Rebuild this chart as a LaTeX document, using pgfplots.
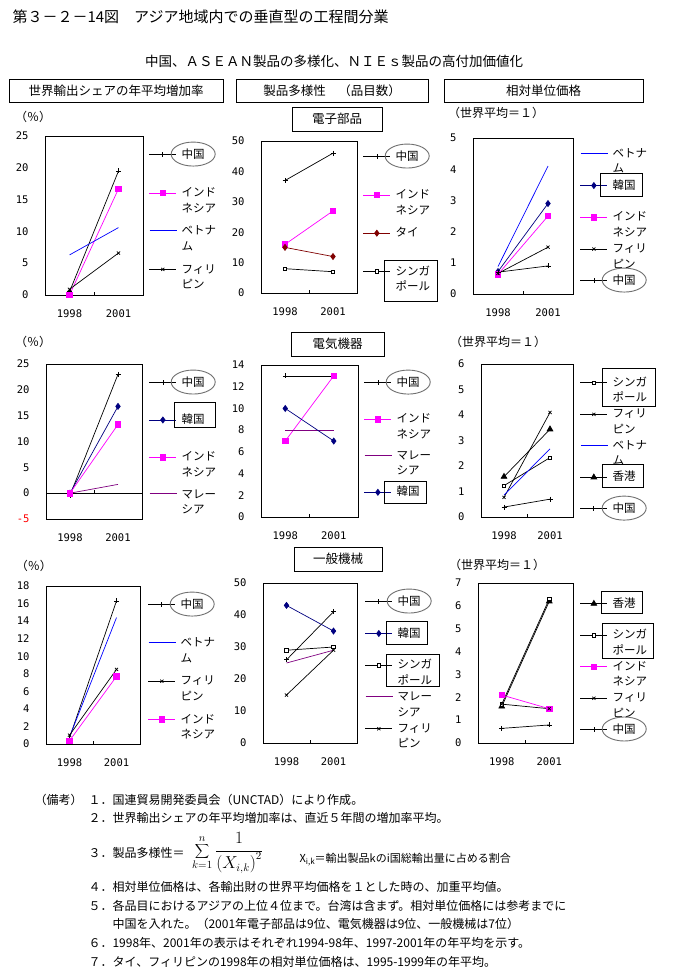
\documentclass[border=0pt]{standalone}
\usepackage{pgfplots}
\pgfplotsset{compat=1.18}
\usepackage{fontspec}
\setmainfont{Noto Sans CJK JP}
\newfontfamily\tickfont{DejaVu Sans Mono}
\definecolor{navyk}{HTML}{000080}
\definecolor{thaired}{HTML}{800000}
\definecolor{purp}{HTML}{800080}
\definecolor{magk}{HTML}{FF00FF}
\definecolor{bluev}{HTML}{0000FF}
\definecolor{ellgray}{HTML}{707070}

\newcommand{\legfont}{\fontsize{11.5}{15.5}\selectfont}
\newcommand{\LS}{30}
\newcommand{\LGe}[1]{\rule{0pt}{\LS pt}\raisebox{\dimexpr\LS pt/2-4.4pt\relax}[0pt][0pt]{#1}}
\newcommand{\LGc}[2]{\LGe{\llap{\textcolor{#1}{\rule[3.95pt]{27pt}{0.9pt}}\hspace{5pt}}#2}}
\newcommand{\TWO}[2]{\vtop{\hbox{#1}\hbox{#2}}}
\newcommand{\OV}[1]{\tikz[baseline=(t.base)]{\node[inner sep=0pt,outer sep=0pt,draw=none,fill=none,anchor=base,text height=,text depth=](t){#1};\draw[overlay,ellgray,line width=0.9pt](t.center) ellipse [x radius=22pt,y radius=12pt];}}
\newcommand{\BX}[5]{\tikz[baseline=(t.base)]{\node[inner sep=0pt,outer sep=0pt,draw=none,fill=none,anchor=base,text height=,text depth=](t){#5};\draw[overlay,black,line width=0.7pt]([xshift=-#1,yshift=#3]t.base west) rectangle ([xshift=#2,yshift=#4]t.base east);}}
\newcommand{\midtick}[1]{\draw[black,line width=0.7pt] (axis cs:1,#1) -- ++(0pt,3pt);}

\pgfplotsset{
 china/.style={color=black, mark=+, mark size=2.5pt},
 indo/.style={color=magk, mark=square*, mark size=2.7pt, mark options={fill=magk, draw=magk}},
 viet/.style={color=bluev, mark=none, legend image code/.code={}},
 phil/.style={color=black, mark=x, mark size=2.2pt},
 thai/.style={color=thaired, mark=diamond*, mark size=3pt, mark options={fill=thaired, draw=thaired}},
 sing/.style={color=black, mark=square*, mark size=1.7pt, mark options={fill=white, draw=black}},
 korea/.style={color=navyk, mark=diamond*, mark size=3pt, mark options={fill=navyk, draw=navyk}},
 malay/.style={color=purp, mark=none, legend image code/.code={}},
 hk/.style={color=black, mark=triangle*, mark size=3.3pt, mark options={fill=black}},
 panel/.style={
  scale only axis, anchor=south west,
  xmin=0, xmax=2,
  xtick={0.5,1.5}, xticklabels={1998,2001},
  xtick pos=left, ytick pos=left,
  major tick length=0pt,
  tick label style={font=\tickfont\fontsize{10.5}{12}\selectfont},
  /pgf/number format/assume math mode=true,
  xticklabel style={yshift=-11.5pt},
  yticklabel style={xshift=-13pt},
  axis line style={line width=0.8pt},
  legend cell align=left,
  legend style={draw=none, fill=none, inner sep=0pt, outer sep=0pt, anchor=north west, column sep=5pt, row sep=0pt, font=\legfont, nodes={inner sep=0pt, outer sep=0pt}},
  legend image code/.code={\draw[mark repeat=2,mark phase=2] plot coordinates {(0pt,0pt)(13.5pt,0pt)(27pt,0pt)};},
  every axis plot/.append style={line width=0.7pt},
  clip=false,
 }
}

\begin{document}
\begin{tikzpicture}
\path[use as bounding box, fill=white] (0,0) rectangle (680pt,-980pt);

% titles
\node[anchor=west, font=\fontsize{15}{17}\selectfont] at (9pt,-17pt) {第３－２－14図　アジア地域内での垂直型の工程間分業};
\node[font=\fontsize{13.5}{15}\selectfont] at (334pt,-61pt) {中国、ＡＳＥＡＮ製品の多様化、ＮＩＥｓ製品の高付加価値化};
\begin{scope}[line width=0.8pt]
\draw (9pt,-79pt) rectangle (223pt,-102pt);
\draw (236pt,-79pt) rectangle (428pt,-102pt);
\draw (444pt,-79pt) rectangle (643pt,-102pt);
\draw (292pt,-107pt) rectangle (382pt,-131pt);
\draw (291pt,-332pt) rectangle (384pt,-356pt);
\draw (294pt,-547pt) rectangle (382pt,-571pt);
\end{scope}
\begin{scope}[font=\fontsize{12.5}{14}\selectfont]
\node at (116pt,-90.5pt) {世界輸出シェアの年平均増加率};
\node at (332pt,-90.5pt) {製品多様性　（品目数）};
\node at (543.5pt,-90.5pt) {相対単位価格};
\node at (337pt,-119pt) {電子部品};
\node at (337.5pt,-344pt) {電気機器};
\node at (338pt,-559pt) {一般機械};
\end{scope}
\begin{scope}[font=\fontsize{12}{14}\selectfont]
\node at (33pt,-117pt) {（％）};
\node at (33pt,-342pt) {（％）};
\node at (34pt,-566pt) {（％）};
\node at (496pt,-113pt) {（世界平均＝１）};
\node at (498pt,-342pt) {（世界平均＝１）};
\node at (497pt,-565pt) {（世界平均＝１）};
\end{scope}

% ---------- Panel 1
\renewcommand{\LS}{36.7}
\begin{axis}[panel, at={(45pt,-295pt)}, width=98pt, height=159pt, ymin=0, ymax=25, ytick distance=5, legend style={at={(1.061,1.002)}}]
\addplot[china] coordinates {(0.5,0.5) (1.5,19.5)}; \addlegendentry{\LGe{\OV{中国}}}
\addplot[indo] coordinates {(0.5,0) (1.5,16.7)}; \addlegendentry{\LGe{\TWO{インド}{ネシア}}}
\addplot[viet] coordinates {(0.5,6.3) (1.5,10.6)}; \addlegendentry{\LGc{bluev}{\TWO{ベトナ}{ム}}}
\addplot[phil] coordinates {(0.5,0.9) (1.5,6.6)}; \addlegendentry{\LGe{\TWO{フィリ}{ピン}}}
\midtick{0}
\end{axis}

% ---------- Panel 2
\renewcommand{\LS}{36.7}
\begin{axis}[panel, at={(261pt,-293pt)}, width=96pt, height=152pt, ymin=0, ymax=50, ytick distance=10, legend style={at={(1.0625,1.022)}}]
\addplot[china] coordinates {(0.5,37) (1.5,46)}; \addlegendentry{\LGe{\OV{中国}}}
\addplot[indo] coordinates {(0.5,16) (1.5,27)}; \addlegendentry{\LGe{\TWO{インド}{ネシア}}}
\addplot[thai] coordinates {(0.5,15) (1.5,12)}; \addlegendentry{\LGe{タイ}}
\addplot[sing] coordinates {(0.5,8) (1.5,7)}; \addlegendentry{\LGe{\BX{11pt}{7pt}{14.4pt}{-26.1pt}{\TWO{シンガ}{ポール}}}}
\midtick{0}
\end{axis}

% ---------- Panel 3
\renewcommand{\LS}{30.25}
\begin{axis}[panel, at={(473pt,-294pt)}, width=100pt, height=156pt, ymin=0, ymax=5, ytick distance=1, legend style={at={(1.07,1.0006)}}]
\addplot[viet] coordinates {(0.5,0.88) (1.5,4.1)}; \addlegendentry{\LGc{bluev}{\TWO{ベトナ}{ム}}}
\addplot[korea] coordinates {(0.5,0.72) (1.5,2.9)}; \addlegendentry{\LGe{\BX{12pt}{7pt}{15.4pt}{-7.6pt}{韓国}}}
\addplot[indo] coordinates {(0.5,0.63) (1.5,2.5)}; \addlegendentry{\LGe{\TWO{インド}{ネシア}}}
\addplot[phil] coordinates {(0.5,0.66) (1.5,1.5)}; \addlegendentry{\LGe{\TWO{フィリ}{ピン}}}
\addplot[china] coordinates {(0.5,0.7) (1.5,0.9)}; \addlegendentry{\LGe{\OV{中国}}}
\midtick{0}
\end{axis}

% ---------- Panel 4
\renewcommand{\LS}{35.7}
\begin{axis}[panel, at={(46pt,-519pt)}, width=96pt, height=155pt, ymin=-5, ymax=25,
  ytick={-5,0,5,10,15,20,25}, yticklabels={{\color{red}-5},0,5,10,15,20,25},
  extra y ticks={0}, extra y tick labels={}, extra y tick style={grid=major, major grid style={black, line width=0.8pt}},
  legend style={at={(1.073,0.999)}}]
\addplot[china] coordinates {(0.5,-0.4) (1.5,23)}; \addlegendentry{\LGe{\OV{中国}}}
\addplot[korea] coordinates {(0.5,0) (1.5,16.8)}; \addlegendentry{\LGe{\BX{7pt}{11pt}{21.4pt}{-3.6pt}{韓国}}}
\addplot[indo] coordinates {(0.5,0) (1.5,13.3)}; \addlegendentry{\LGe{\TWO{インド}{ネシア}}}
\addplot[malay] coordinates {(0.5,0) (1.5,1.7)}; \addlegendentry{\LGc{purp}{\TWO{マレー}{シア}}}
\midtick{0}
\end{axis}

% ---------- Panel 5
\renewcommand{\LS}{35}
\begin{axis}[panel, at={(261pt,-517pt)}, width=97pt, height=152pt, ymin=0, ymax=14, ytick distance=2, legend style={at={(1.062,1.003)}}]
\addplot[china] coordinates {(0.5,13) (1.5,13)}; \addlegendentry{\LGe{\OV{中国}}}
\addplot[indo] coordinates {(0.5,7) (1.5,13)}; \addlegendentry{\LGe{\TWO{インド}{ネシア}}}
\addplot[malay] coordinates {(0.5,8) (1.5,8)}; \addlegendentry{\LGc{purp}{\TWO{マレー}{シア}}}
\addplot[korea] coordinates {(0.5,10) (1.5,7)}; \addlegendentry{\LGe{\BX{12pt}{7pt}{14.4pt}{-7.6pt}{韓国}}}
\midtick{0}
\end{axis}

% ---------- Panel 6
\renewcommand{\LS}{30}
\begin{axis}[panel, at={(481pt,-517pt)}, width=92pt, height=153pt, ymin=0, ymax=6, ytick distance=1, legend style={at={(1.076,0.980)}}]
\addplot[sing] coordinates {(0.5,1.23) (1.5,2.33)}; \addlegendentry{\LGe{\BX{10pt}{8.5pt}{18.4pt}{-19.6pt}{\TWO{シンガ}{ポール}}}}
\addplot[phil] coordinates {(0.5,0.77) (1.5,4.1)}; \addlegendentry{\LGe{\TWO{フィリ}{ピン}}}
\addplot[viet] coordinates {(0.5,0.86) (1.5,2.67)}; \addlegendentry{\LGc{bluev}{\TWO{ベトナ}{ム}}}
\addplot[hk] coordinates {(0.5,1.58) (1.5,3.44)}; \addlegendentry{\LGe{\BX{10pt}{8pt}{16.4pt}{-6.6pt}{香港}}}
\addplot[china] coordinates {(0.5,0.39) (1.5,0.7)}; \addlegendentry{\LGe{\OV{中国}}}
\midtick{0}
\end{axis}

% ---------- Panel 7
\renewcommand{\LS}{36.7}
\begin{axis}[panel, at={(46pt,-744pt)}, width=94pt, height=158pt, ymin=0, ymax=18, ytick distance=2, legend style={at={(1.085,1.002)}}]
\addplot[china] coordinates {(0.5,0.7) (1.5,16.3)}; \addlegendentry{\LGe{\OV{中国}}}
\addplot[viet] coordinates {(0.5,0.8) (1.5,14.4)}; \addlegendentry{\LGc{bluev}{\TWO{ベトナ}{ム}}}
\addplot[phil] coordinates {(0.5,1.0) (1.5,8.5)}; \addlegendentry{\LGe{\TWO{フィリ}{ピン}}}
\addplot[indo] coordinates {(0.5,0.37) (1.5,7.7)}; \addlegendentry{\LGe{\TWO{インド}{ネシア}}}
\midtick{0}
\end{axis}

% ---------- Panel 8
\renewcommand{\LS}{30.25}
\begin{axis}[panel, at={(263pt,-743pt)}, width=94pt, height=160pt, ymin=0, ymax=50, ytick distance=10, legend style={at={(1.085,0.982)}}]
\addplot[china] coordinates {(0.5,26) (1.5,41)}; \addlegendentry{\LGe{\OV{中国}}}
\addplot[korea] coordinates {(0.5,43) (1.5,35)}; \addlegendentry{\LGe{\BX{11pt}{7pt}{15.4pt}{-7.6pt}{韓国}}}
\addplot[sing] coordinates {(0.5,29) (1.5,30)}; \addlegendentry{\LGe{\BX{11pt}{7.5pt}{14.4pt}{-17.6pt}{\TWO{シンガ}{ポール}}}}
\addplot[malay] coordinates {(0.5,25) (1.5,29)}; \addlegendentry{\LGc{purp}{\TWO{マレー}{シア}}}
\addplot[phil] coordinates {(0.5,15) (1.5,29)}; \addlegendentry{\LGe{\TWO{フィリ}{ピン}}}
\midtick{0}
\end{axis}

% ---------- Panel 9
\renewcommand{\LS}{30}
\begin{axis}[panel, at={(478pt,-743pt)}, width=95pt, height=160pt, ymin=0, ymax=7, ytick distance=1, legend style={at={(1.074,0.969)}}]
\addplot[hk] coordinates {(0.5,1.6) (1.5,6.2)}; \addlegendentry{\LGe{\BX{11pt}{7pt}{16.4pt}{-5.6pt}{香港}}}
\addplot[sing] coordinates {(0.5,1.7) (1.5,6.3)}; \addlegendentry{\LGe{\BX{10pt}{6.5pt}{15.4pt}{-19.6pt}{\TWO{シンガ}{ポール}}}}
\addplot[indo] coordinates {(0.5,2.1) (1.5,1.5)}; \addlegendentry{\LGe{\TWO{インド}{ネシア}}}
\addplot[phil] coordinates {(0.5,1.7) (1.5,1.5)}; \addlegendentry{\LGe{\TWO{フィリ}{ピン}}}
\addplot[china] coordinates {(0.5,0.64) (1.5,0.79)}; \addlegendentry{\LGe{\OV{中国}}}
\midtick{0}
\end{axis}

% notes
\begin{scope}[font=\fontsize{12}{14}\selectfont]
\node[anchor=west] at (31pt,-800pt) {（備考）};
\node[anchor=west] at (85pt,-800pt) {１．国連貿易開発委員会（UNCTAD）により作成。};
\node[anchor=west] at (85pt,-818pt) {２．世界輸出シェアの年平均増加率は、直近５年間の増加率平均。};
\node[anchor=west] at (85pt,-853pt) {３．製品多様性＝};
\node[anchor=west, inner sep=0pt] at (192pt,-853pt) {\fontsize{16}{18}\selectfont$\displaystyle\sum_{k=1}^{n}\frac{1}{\left(X_{i,k}\right)^{2}}$};
\node[anchor=west, font=\fontsize{11}{13}\selectfont] at (296pt,-860pt) {X\raisebox{-2pt}{\fontsize{8}{9}\selectfont i,k}＝輸出製品kのi国総輸出量に占める割合};
\node[anchor=west] at (85pt,-887pt) {４．相対単位価格は、各輸出財の世界平均価格を１とした時の、加重平均値。};
\node[anchor=west] at (85pt,-906pt) {５．各品目におけるアジアの上位４位まで。台湾は含まず。相対単位価格には参考までに};
\node[anchor=west] at (109pt,-924pt) {中国を入れた。（2001年電子部品は9位、電気機器は9位、一般機械は7位）};
\node[anchor=west] at (85pt,-943pt) {６．1998年、2001年の表示はそれぞれ1994-98年、1997-2001年の年平均を示す。};
\node[anchor=west] at (85pt,-962pt) {７．タイ、フィリピンの1998年の相対単位価格は、1995-1999年の年平均。};
\end{scope}
\end{tikzpicture}
\end{document}
